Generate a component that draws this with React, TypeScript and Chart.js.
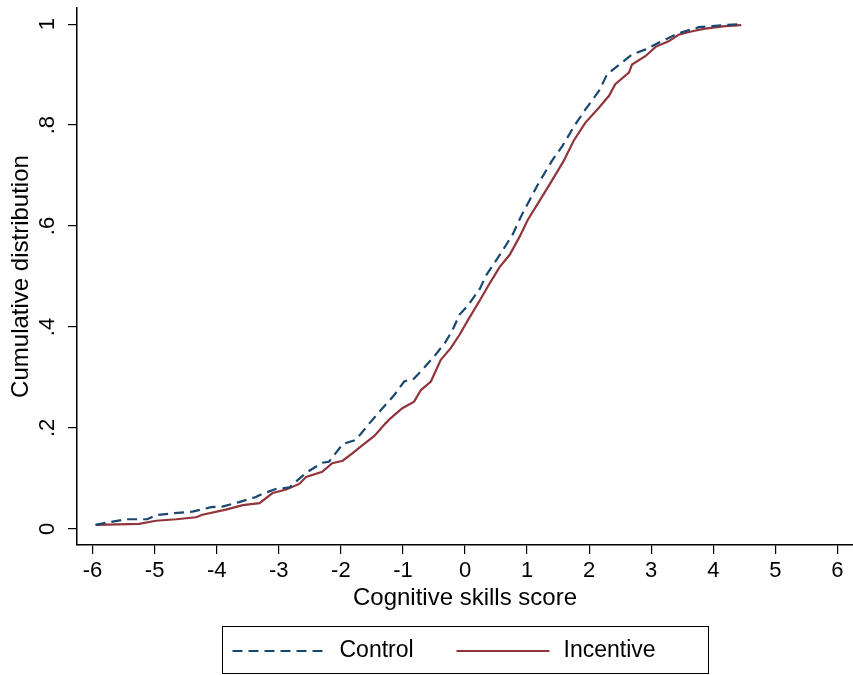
import React, { useEffect, useRef } from "react";
import { Chart, registerables } from "chart.js";

Chart.register(...registerables);

// ---- data ----
const seriesNames = ["Control", "Incentive"];

const controlX = [-5.95, -5.78, -5.46, -5.12, -4.98, -4.68, -4.39, -4.09, -3.91, -3.64, -3.37, -3.27, -3.05, -2.83, -2.56, -2.3, -2.19, -1.97, -1.76, -1.54, -1.33, -1.14, -0.98, -0.82, -0.69, -0.5, -0.31, -0.2, -0.09, 0.05, 0.24, 0.34, 0.48, 0.64, 0.77, 0.91, 1.04, 1.19, 1.4, 1.57, 1.78, 1.94, 2.16, 2.29, 2.53, 2.69, 2.91, 3.12, 3.44, 3.77, 4.14, 4.44];
const controlY = [0.008, 0.012, 0.019, 0.019, 0.027, 0.031, 0.034, 0.043, 0.044, 0.053, 0.063, 0.069, 0.079, 0.082, 0.111, 0.131, 0.133, 0.168, 0.176, 0.209, 0.239, 0.265, 0.292, 0.298, 0.315, 0.341, 0.371, 0.394, 0.424, 0.443, 0.476, 0.502, 0.528, 0.558, 0.584, 0.621, 0.651, 0.686, 0.729, 0.759, 0.802, 0.831, 0.868, 0.901, 0.924, 0.94, 0.95, 0.963, 0.982, 0.994, 0.998, 1.0];

const incentiveX = [-5.95, -5.25, -4.98, -4.65, -4.33, -4.23, -3.85, -3.58, -3.31, -3.1, -2.88, -2.67, -2.56, -2.3, -2.14, -1.97, -1.81, -1.65, -1.46, -1.28, -1.2, -1.01, -0.82, -0.71, -0.55, -0.39, -0.23, -0.09, 0.05, 0.24, 0.4, 0.56, 0.72, 0.88, 1.01, 1.19, 1.4, 1.59, 1.75, 1.94, 2.16, 2.32, 2.42, 2.64, 2.69, 2.91, 3.07, 3.28, 3.44, 3.66, 3.87, 4.19, 4.45];
const incentiveY = [0.008, 0.01, 0.016, 0.019, 0.023, 0.028, 0.038, 0.047, 0.051, 0.071, 0.078, 0.089, 0.103, 0.113, 0.13, 0.135, 0.15, 0.166, 0.184, 0.209, 0.219, 0.239, 0.252, 0.275, 0.292, 0.335, 0.358, 0.384, 0.414, 0.453, 0.487, 0.519, 0.543, 0.579, 0.612, 0.648, 0.69, 0.729, 0.769, 0.805, 0.835, 0.858, 0.881, 0.904, 0.92, 0.937, 0.955, 0.966, 0.979, 0.986, 0.991, 0.996, 0.998];

const xTicks = [-6, -5, -4, -3, -2, -1, 0, 1, 2, 3, 4, 5, 6];
const yTicks = [0, 0.2, 0.4, 0.6, 0.8, 1];
const yTickLabels = ["0", ".2", ".4", ".6", ".8", "1"];

const xTitle = "Cognitive skills score";
const yTitle = "Cumulative distribution";

const NAVY = "#1a476f";
const MAROON = "#90353b";
const FONT = '"Liberation Sans", Arial, Helvetica, sans-serif';

export default function App() {
  const ref = useRef<HTMLCanvasElement>(null);

  useEffect(() => {
    document.body.style.margin = "0";
    const canvas = ref.current;
    if (!canvas) return;

    // rotated y tick labels, placed through the y scale
    const yLabelPlugin = {
      id: "yRotLabels",
      afterDraw(chart: any) {
        const ctx = chart.ctx;
        const ys = chart.scales.y;
        ctx.save();
        ctx.fillStyle = "#000";
        ctx.font = `22px ${FONT}`;
        ctx.textAlign = "center";
        ctx.textBaseline = "middle";
        yTicks.forEach((v, i) => {
          const py = ys.getPixelForValue(v);
          ctx.save();
          ctx.translate(ys.right - 29, py);
          ctx.rotate(-Math.PI / 2);
          ctx.fillText(yTickLabels[i], 0, 0);
          ctx.restore();
        });
        ctx.restore();
      },
    };

    const legendPlugin = {
      id: "boxLegend",
      afterDraw(chart: any) {
        const ctx = chart.ctx;
        const ca = chart.chartArea;
        const cx = (ca.left + ca.right) / 2;
        const left = Math.round(cx - 243) + 0.5;
        const top = 626.5;
        const w = 486;
        const h = 47;
        ctx.save();
        ctx.strokeStyle = "#000";
        ctx.lineWidth = 1;
        ctx.setLineDash([]);
        ctx.strokeRect(left, top, w, h);
        const midY = 651;
        chart.data.datasets.forEach((ds: any, i: number) => {
          const x0 = left + 10 + i * 224;
          ctx.beginPath();
          ctx.strokeStyle = ds.borderColor;
          ctx.lineWidth = ds.borderWidth;
          ctx.setLineDash(ds.borderDash || []);
          ctx.moveTo(x0, midY);
          ctx.lineTo(x0 + 93, midY);
          ctx.stroke();
          ctx.setLineDash([]);
          ctx.fillStyle = "#000";
          ctx.font = `23px ${FONT}`;
          ctx.textAlign = "left";
          ctx.textBaseline = "middle";
          ctx.fillText(ds.label, x0 + 107, midY);
        });
        ctx.restore();
      },
    };

    const chart = new Chart(canvas, {
      type: "line",
      data: {
        datasets: [
          {
            label: seriesNames[0],
            data: controlX.map((x, i) => ({ x, y: controlY[i] })),
            borderColor: NAVY,
            backgroundColor: NAVY,
            borderWidth: 2.2,
            borderDash: [10, 6],
            pointRadius: 0,
            tension: 0,
            fill: false,
          },
          {
            label: seriesNames[1],
            data: incentiveX.map((x, i) => ({ x, y: incentiveY[i] })),
            borderColor: MAROON,
            backgroundColor: MAROON,
            borderWidth: 2.2,
            pointRadius: 0,
            tension: 0,
            fill: false,
          },
        ],
      },
      options: {
        responsive: false,
        animation: false,
        devicePixelRatio: 1,
        layout: { padding: { top: 8, right: 0, left: 0, bottom: 0 } },
        font: { family: FONT },
        plugins: {
          legend: { display: false },
          tooltip: { enabled: false },
        },
        scales: {
          x: {
            type: "linear",
            min: -6.25,
            max: 6.25,
            afterBuildTicks: (s: any) => {
              s.ticks = xTicks.map((v) => ({ value: v }));
            },
            afterFit: (s: any) => {
              s.height = 130;
            },
            grid: {
              drawOnChartArea: false,
              drawTicks: true,
              tickLength: 9,
              color: "#000",
              lineWidth: 1.2,
            },
            border: { display: true, color: "#000", width: 1.5 },
            ticks: {
              color: "#000",
              font: { size: 22, family: FONT },
              padding: 4,
              minRotation: 0,
              maxRotation: 0,
              autoSkip: false,
              callback: (v: any) => String(v),
            },
            title: {
              display: true,
              text: xTitle,
              color: "#000",
              font: { size: 24, family: FONT },
              padding: { top: 0, bottom: 62 },
            },
          },
          y: {
            type: "linear",
            min: -0.032,
            max: 1.032,
            afterBuildTicks: (s: any) => {
              s.ticks = yTicks.map((v) => ({ value: v }));
            },
            afterFit: (s: any) => {
              s.width = 77;
            },
            grid: {
              drawOnChartArea: false,
              drawTicks: true,
              tickLength: 9,
              color: "#000",
              lineWidth: 1.2,
            },
            border: { display: true, color: "#000", width: 1.5 },
            ticks: {
              display: false,
            },
            title: {
              display: true,
              text: yTitle,
              color: "#000",
              font: { size: 24, family: FONT },
              padding: { top: 7, bottom: 0 },
            },
          },
        },
      } as any,
      plugins: [yLabelPlugin, legendPlugin],
    });

    return () => chart.destroy();
  }, []);

  return (
    <div style={{ position: "fixed", left: 0, top: 0, width: 853, height: 675, background: "#fff" }}>
      <canvas ref={ref} width={853} height={675} style={{ display: "block" }} />
    </div>
  );
}
